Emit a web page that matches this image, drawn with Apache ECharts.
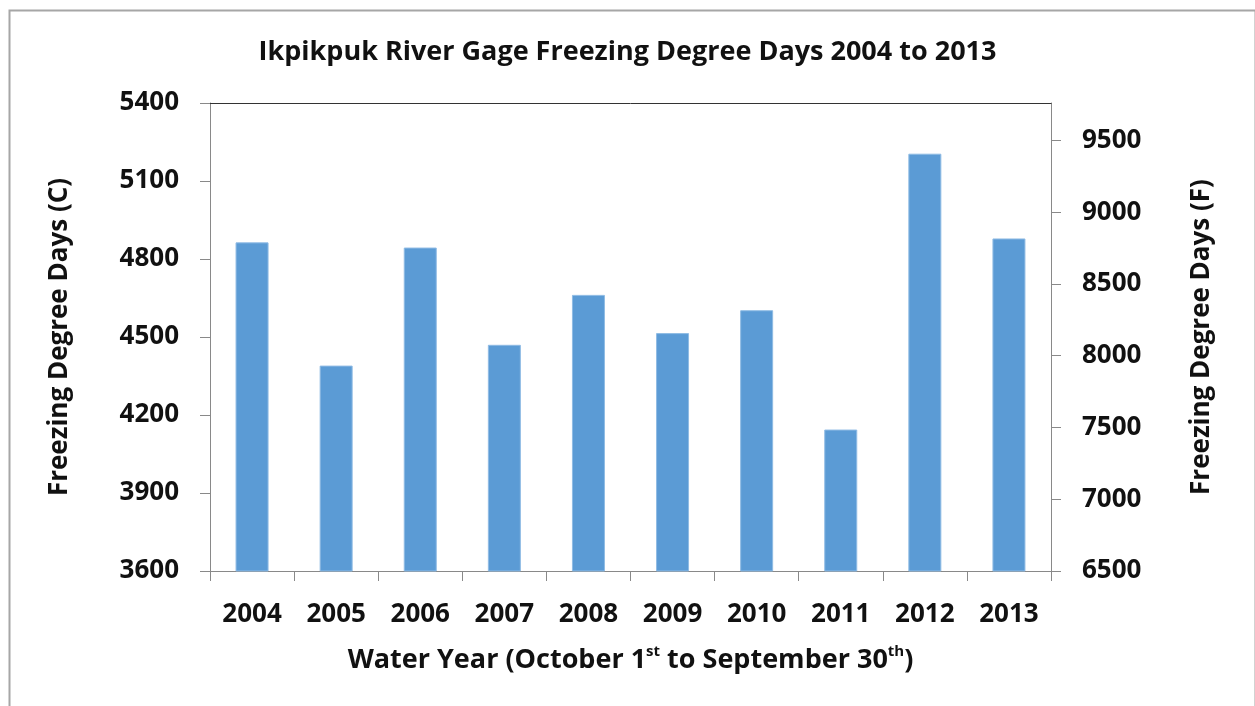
<!DOCTYPE html>
<html>
<head>
<meta charset="utf-8">
<script src="https://cdn.jsdelivr.net/npm/echarts@6/dist/echarts.min.js"></script>
<style>
html,body{margin:0;padding:0;background:#fff;}
#chart{width:1255px;height:706px;}
</style>
</head>
<body>
<div id="chart"></div>
<script>
const years = ['2004','2005','2006','2007','2008','2009','2010','2011','2012','2013'];
const freezingDegreeDaysC = [4864, 4390, 4844, 4470, 4662, 4515, 4603, 4144, 5205, 4879];
const leftTicks = [3600, 3900, 4200, 4500, 4800, 5100, 5400];
const rightTicks = [6500, 7000, 7500, 8000, 8500, 9000, 9500];
const rightMax = 9760;

const FONT = '"Open Sans"';
const plain = v => String(v);
const chart = echarts.init(document.getElementById('chart'));
chart.setOption({
  animation: false,
  backgroundColor: '#ffffff',
  graphic: [{
    type: 'rect', left: 7, top: 8, silent: true,
    shape: {width: 1246, height: 720},
    style: {fill: 'none', stroke: '#a6a6a6', lineWidth: 2}
  }],
  title: {
    text: 'Ikpikpuk River Gage Freezing Degree Days 2004 to 2013',
    left: 'center', top: 34,
    textStyle: {fontFamily: FONT, fontWeight: 'bold', fontSize: 27, color: '#111'}
  },
  grid: {left: 210, right: 204, top: 103, bottom: 135},
  xAxis: [{
    type: 'category', data: years, position: 'bottom',
    axisLine: {lineStyle: {color: '#898989', width: 1}},
    axisTick: {show: true, length: 10, inside: false, lineStyle: {color: '#898989'}},
    axisLabel: {fontFamily: FONT, fontWeight: 'bold', fontSize: 26, color: '#111', margin: 31},
    name: 'Water Year (October 1{sup|st} to September 30{sup|th})',
    nameLocation: 'middle', nameGap: 73,
    nameTextStyle: {
      fontFamily: FONT, fontWeight: 'bold', fontSize: 27, color: '#111', lineHeight: 32,
      rich: {sup: {fontFamily: FONT, fontWeight: 'bold', fontSize: 15, color: '#111', verticalAlign: 'top', lineHeight: 18}}
    }
  }, {
    type: 'category', data: years, position: 'top',
    axisLine: {show: true, lineStyle: {color: '#333333', width: 1}},
    axisTick: {show: false}, axisLabel: {show: false}
  }],
  yAxis: [{
    type: 'value', min: leftTicks[0], max: leftTicks[leftTicks.length - 1], interval: 300,
    position: 'left',
    axisLine: {show: true, lineStyle: {color: '#898989'}},
    axisTick: {show: true, length: 10, inside: false, lineStyle: {color: '#898989'}},
    axisLabel: {fontFamily: FONT, fontWeight: 'bold', fontSize: 26, color: '#111', margin: 31, formatter: plain},
    splitLine: {show: false},
    name: 'Freezing Degree Days (C)', nameLocation: 'middle', nameGap: 137, nameRotate: 90,
    nameTextStyle: {fontFamily: FONT, fontWeight: 'bold', fontSize: 26, color: '#111'}
  }, {
    type: 'value', min: rightTicks[0], max: rightMax,
    position: 'right',
    axisLine: {show: true, lineStyle: {color: '#898989'}},
    axisTick: {show: true, length: 10, inside: false, customValues: rightTicks, lineStyle: {color: '#898989'}},
    axisLabel: {fontFamily: FONT, fontWeight: 'bold', fontSize: 26, color: '#111', margin: 31, customValues: rightTicks, formatter: plain},
    splitLine: {show: false},
    name: 'Freezing Degree Days (F)', nameLocation: 'middle', nameGap: 138, nameRotate: 90,
    nameTextStyle: {fontFamily: FONT, fontWeight: 'bold', fontSize: 26, color: '#111'}
  }],
  series: [{
    type: 'bar', data: freezingDegreeDaysC, xAxisIndex: 0, yAxisIndex: 0,
    barWidth: 33,
    itemStyle: {color: '#5b9bd5', borderColor: '#8fbbe4', borderWidth: 1}
  }]
});
</script>
</body>
</html>
